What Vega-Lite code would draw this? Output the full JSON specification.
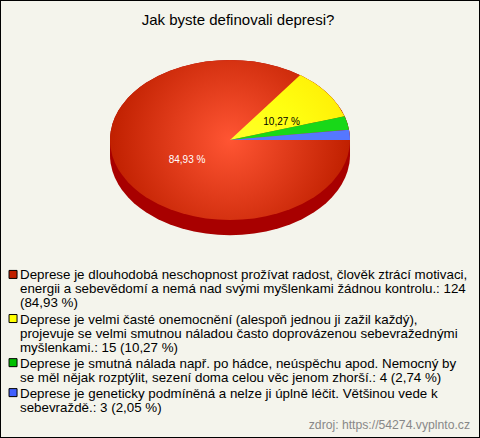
{
"$schema":"https://vega.github.io/schema/vega-lite/v6.json",
"width":480,"height":438,"padding":0,
"autosize":{"type":"fit","contains":"padding"},
"background":"#f4f4ec",
"config":{"view":{"stroke":"#000000","strokeWidth":2},"text":{"font":"Liberation Sans"}},
"datasets":{
"table":[
{"option":"Deprese je dlouhodobá neschopnost prožívat radost, člověk ztrácí motivaci, energii a sebevědomí a nemá nad svými myšlenkami žádnou kontrolu.","count":124,"percent":"84,93 %","legendLine":0,"lines":["Deprese je dlouhodobá neschopnost prožívat radost, člověk ztrácí motivaci,","energii a sebevědomí a nemá nad svými myšlenkami žádnou kontrolu.: 124","(84,93 %)"]},
{"option":"Deprese je velmi časté onemocnění (alespoň jednou ji zažil každý), projevuje se velmi smutnou náladou často doprovázenou sebevražednými myšlenkami.","count":15,"percent":"10,27 %","legendLine":3.15,"lines":["Deprese je velmi časté onemocnění (alespoň jednou ji zažil každý),","projevuje se velmi smutnou náladou často doprovázenou sebevražednými","myšlenkami.: 15 (10,27 %)"]},
{"option":"Deprese je smutná nálada např. po hádce, neúspěchu apod. Nemocný by se měl nějak rozptýlit, sezení doma celou věc jenom zhorší.","count":4,"percent":"2,74 %","legendLine":6.3,"lines":["Deprese je smutná nálada např. po hádce, neúspěchu apod. Nemocný by","se měl nějak rozptýlit, sezení doma celou věc jenom zhorší.: 4 (2,74 %)"]},
{"option":"Deprese je geneticky podmíněná a nelze ji úplně léčit. Většinou vede k sebevraždě.","count":3,"percent":"2,05 %","legendLine":8.44,"lines":["Deprese je geneticky podmíněná a nelze ji úplně léčit. Většinou vede k","sebevraždě.: 3 (2,05 %)"]}
],
"ellipse":[
{"u":-1,"top":0,"bottom":0,"rim":-0.19},
{"u":-0.999,"top":0.0447,"bottom":-0.0447,"rim":-0.2347},
{"u":-0.995,"top":0.0999,"bottom":-0.0999,"rim":-0.2899},
{"u":-0.98,"top":0.199,"bottom":-0.199,"rim":-0.389},
{"u":-0.96,"top":0.28,"bottom":-0.28,"rim":-0.47},
{"u":-0.93,"top":0.3676,"bottom":-0.3676,"rim":-0.5576},
{"u":-0.9,"top":0.4359,"bottom":-0.4359,"rim":-0.6259},
{"u":-0.85,"top":0.5268,"bottom":-0.5268,"rim":-0.7168},
{"u":-0.8,"top":0.6,"bottom":-0.6,"rim":-0.79},
{"u":-0.75,"top":0.6614,"bottom":-0.6614,"rim":-0.8514},
{"u":-0.7,"top":0.7141,"bottom":-0.7141,"rim":-0.9041},
{"u":-0.6,"top":0.8,"bottom":-0.8,"rim":-0.99},
{"u":-0.5,"top":0.866,"bottom":-0.866,"rim":-1.056},
{"u":-0.4,"top":0.9165,"bottom":-0.9165,"rim":-1.1065},
{"u":-0.3,"top":0.9539,"bottom":-0.9539,"rim":-1.1439},
{"u":-0.2,"top":0.9798,"bottom":-0.9798,"rim":-1.1698},
{"u":-0.1,"top":0.995,"bottom":-0.995,"rim":-1.185},
{"u":0,"top":1,"bottom":-1,"rim":-1.19},
{"u":0.1,"top":0.995,"bottom":-0.995,"rim":-1.185},
{"u":0.2,"top":0.9798,"bottom":-0.9798,"rim":-1.1698},
{"u":0.3,"top":0.9539,"bottom":-0.9539,"rim":-1.1439},
{"u":0.4,"top":0.9165,"bottom":-0.9165,"rim":-1.1065},
{"u":0.5,"top":0.866,"bottom":-0.866,"rim":-1.056},
{"u":0.6,"top":0.8,"bottom":-0.8,"rim":-0.99},
{"u":0.7,"top":0.7141,"bottom":-0.7141,"rim":-0.9041},
{"u":0.75,"top":0.6614,"bottom":-0.6614,"rim":-0.8514},
{"u":0.8,"top":0.6,"bottom":-0.6,"rim":-0.79},
{"u":0.85,"top":0.5268,"bottom":-0.5268,"rim":-0.7168},
{"u":0.9,"top":0.4359,"bottom":-0.4359,"rim":-0.6259},
{"u":0.93,"top":0.3676,"bottom":-0.3676,"rim":-0.5576},
{"u":0.96,"top":0.28,"bottom":-0.28,"rim":-0.47},
{"u":0.98,"top":0.199,"bottom":-0.199,"rim":-0.389},
{"u":0.995,"top":0.0999,"bottom":-0.0999,"rim":-0.2899},
{"u":0.999,"top":0.0447,"bottom":-0.0447,"rim":-0.2347},
{"u":1,"top":0,"bottom":0,"rim":-0.19}
],
"yellowWedge":[
{"u":0,"top":0,"bottom":0},
{"u":0.3,"top":0.4158,"bottom":0.0931},
{"u":0.585,"top":0.811,"bottom":0.1815},
{"u":0.65,"top":0.76,"bottom":0.2017},
{"u":0.7,"top":0.7141,"bottom":0.2172},
{"u":0.75,"top":0.6614,"bottom":0.2327},
{"u":0.8,"top":0.6,"bottom":0.2482},
{"u":0.85,"top":0.5268,"bottom":0.2638},
{"u":0.9,"top":0.4359,"bottom":0.2793},
{"u":0.9551,"top":0.2964,"bottom":0.2964}
],
"greenWedge":[
{"u":0,"top":0,"bottom":0},
{"u":0.5,"top":0.1552,"bottom":0.0648},
{"u":0.9551,"top":0.2964,"bottom":0.1237},
{"u":0.97,"top":0.2431,"bottom":0.1256},
{"u":0.98,"top":0.199,"bottom":0.1269},
{"u":0.9917,"top":0.1284,"bottom":0.1284}
],
"blueWedge":[
{"u":0,"top":0,"bottom":0},
{"u":0.5,"top":0.0648,"bottom":0},
{"u":0.9917,"top":0.1284,"bottom":0},
{"u":0.996,"top":0.0893,"bottom":0},
{"u":0.999,"top":0.0447,"bottom":0},
{"u":1,"top":0,"bottom":0}
]
},
"resolve":{"scale":{"y":"independent"}},
"layer":[
{"data":{"name":"ellipse"},"mark":{"type":"area","fill":"#a80000","clip":false},
 "encoding":{"x":{"field":"u","type":"quantitative","axis":null,"scale":{"domain":[-1.9167,2.0833],"nice":false,"zero":false}},
 "y":{"field":"top","type":"quantitative","axis":null,"stack":null,"scale":{"domain":[-3.725,1.75],"nice":false,"zero":false}},"y2":{"field":"rim"}}},
{"data":{"name":"ellipse"},"mark":{"type":"area","fill":{"gradient":"radial","x1":0.5,"y1":0.5,"x2":0.5,"y2":0.5,"r1":0,"r2":0.5,"stops":[{"offset":0,"color":"#ff5533"},{"offset":1,"color":"#c02000"}]}},
 "encoding":{"x":{"field":"u","type":"quantitative","axis":null,"scale":{"domain":[-1.9167,2.0833],"nice":false,"zero":false}},
 "y":{"field":"top","type":"quantitative","axis":null,"stack":null,"scale":{"domain":[-3.725,1.75],"nice":false,"zero":false}},"y2":{"field":"bottom"}}},
{"data":{"name":"yellowWedge"},"mark":{"type":"area","fill":{"gradient":"radial","x1":0,"y1":1,"x2":0,"y2":1,"r1":0,"r2":1.35,"stops":[{"offset":0,"color":"#ffff33"},{"offset":0.5,"color":"#ffff11"},{"offset":1,"color":"#ffe600"}]}},
 "encoding":{"x":{"field":"u","type":"quantitative","axis":null,"scale":{"domain":[-1.9167,2.0833],"nice":false,"zero":false}},
 "y":{"field":"top","type":"quantitative","axis":null,"stack":null,"scale":{"domain":[-3.725,1.75],"nice":false,"zero":false}},"y2":{"field":"bottom"}}},
{"data":{"name":"greenWedge"},"mark":{"type":"area","fill":"#18d818"},
 "encoding":{"x":{"field":"u","type":"quantitative","axis":null,"scale":{"domain":[-1.9167,2.0833],"nice":false,"zero":false}},
 "y":{"field":"top","type":"quantitative","axis":null,"stack":null,"scale":{"domain":[-3.725,1.75],"nice":false,"zero":false}},"y2":{"field":"bottom"}}},
{"data":{"name":"blueWedge"},"mark":{"type":"area","fill":"#5577ff"},
 "encoding":{"x":{"field":"u","type":"quantitative","axis":null,"scale":{"domain":[-1.9167,2.0833],"nice":false,"zero":false}},
 "y":{"field":"top","type":"quantitative","axis":null,"stack":null,"scale":{"domain":[-3.725,1.75],"nice":false,"zero":false}},"y2":{"field":"bottom"}}},
{"data":{"name":"table"},"transform":[{"filter":"datum.count==124"}],"mark":{"type":"text","fontSize":10,"color":"#ffffff","font":"Liberation Sans"},
 "encoding":{"x":{"datum":-0.358,"type":"quantitative","scale":{"domain":[-1.9167,2.0833],"nice":false,"zero":false}},
 "y":{"datum":-0.2525,"type":"quantitative","axis":null,"scale":{"domain":[-3.725,1.75],"nice":false,"zero":false}},"text":{"field":"percent"}}},
{"data":{"name":"table"},"transform":[{"filter":"datum.count==15"}],"mark":{"type":"text","fontSize":10,"color":"#000000","font":"Liberation Sans"},
 "encoding":{"x":{"datum":0.43,"type":"quantitative","scale":{"domain":[-1.9167,2.0833],"nice":false,"zero":false}},
 "y":{"datum":0.2275,"type":"quantitative","axis":null,"scale":{"domain":[-3.725,1.75],"nice":false,"zero":false}},"text":{"field":"percent"}}},
{"data":{"values":[{"title":"Jak byste definovali depresi?"}]},"mark":{"type":"text","fontSize":15,"color":"#000000","font":"Liberation Sans"},
 "encoding":{"x":{"datum":0.067,"type":"quantitative","scale":{"domain":[-1.9167,2.0833],"nice":false,"zero":false}},
 "y":{"datum":1.505,"type":"quantitative","axis":null,"scale":{"domain":[-3.725,1.75],"nice":false,"zero":false}},"text":{"field":"title"}}},
{"data":{"values":[{"source":"zdroj: https://54274.vyplnto.cz"}]},"mark":{"type":"text","fontSize":12.2,"align":"right","color":"#888888","font":"Liberation Sans"},
 "encoding":{"x":{"datum":2.0,"type":"quantitative","scale":{"domain":[-1.9167,2.0833],"nice":false,"zero":false}},
 "y":{"datum":-3.5625,"type":"quantitative","axis":null,"scale":{"domain":[-3.725,1.75],"nice":false,"zero":false}},"text":{"field":"source"}}},
{"data":{"name":"table"},"mark":{"type":"point","shape":"square","filled":true,"size":64,"opacity":1,"stroke":"#000000","strokeWidth":1,"yOffset":6},
 "encoding":{"x":{"datum":-1.808,"type":"quantitative","scale":{"domain":[-1.9167,2.0833],"nice":false,"zero":false}},
 "y":{"field":"legendLine","type":"quantitative","axis":null,"scale":{"domain":[-19.17,12.11],"reverse":true,"nice":false,"zero":false}},
 "fill":{"field":"count","type":"nominal","legend":null,"scale":{"domain":[124,15,4,3],"range":["#c02000","#ffff00","#00c000","#4060ff"]}}}},
{"data":{"name":"table"},"mark":{"type":"text","fontSize":13.35,"align":"left","baseline":"top","lineHeight":14,"color":"#000000","font":"Liberation Sans"},
 "encoding":{"x":{"datum":-1.75,"type":"quantitative","scale":{"domain":[-1.9167,2.0833],"nice":false,"zero":false}},
 "y":{"field":"legendLine","type":"quantitative","axis":null,"scale":{"domain":[-19.17,12.11],"reverse":true,"nice":false,"zero":false}},
 "text":{"field":"lines"}}}
]
}
